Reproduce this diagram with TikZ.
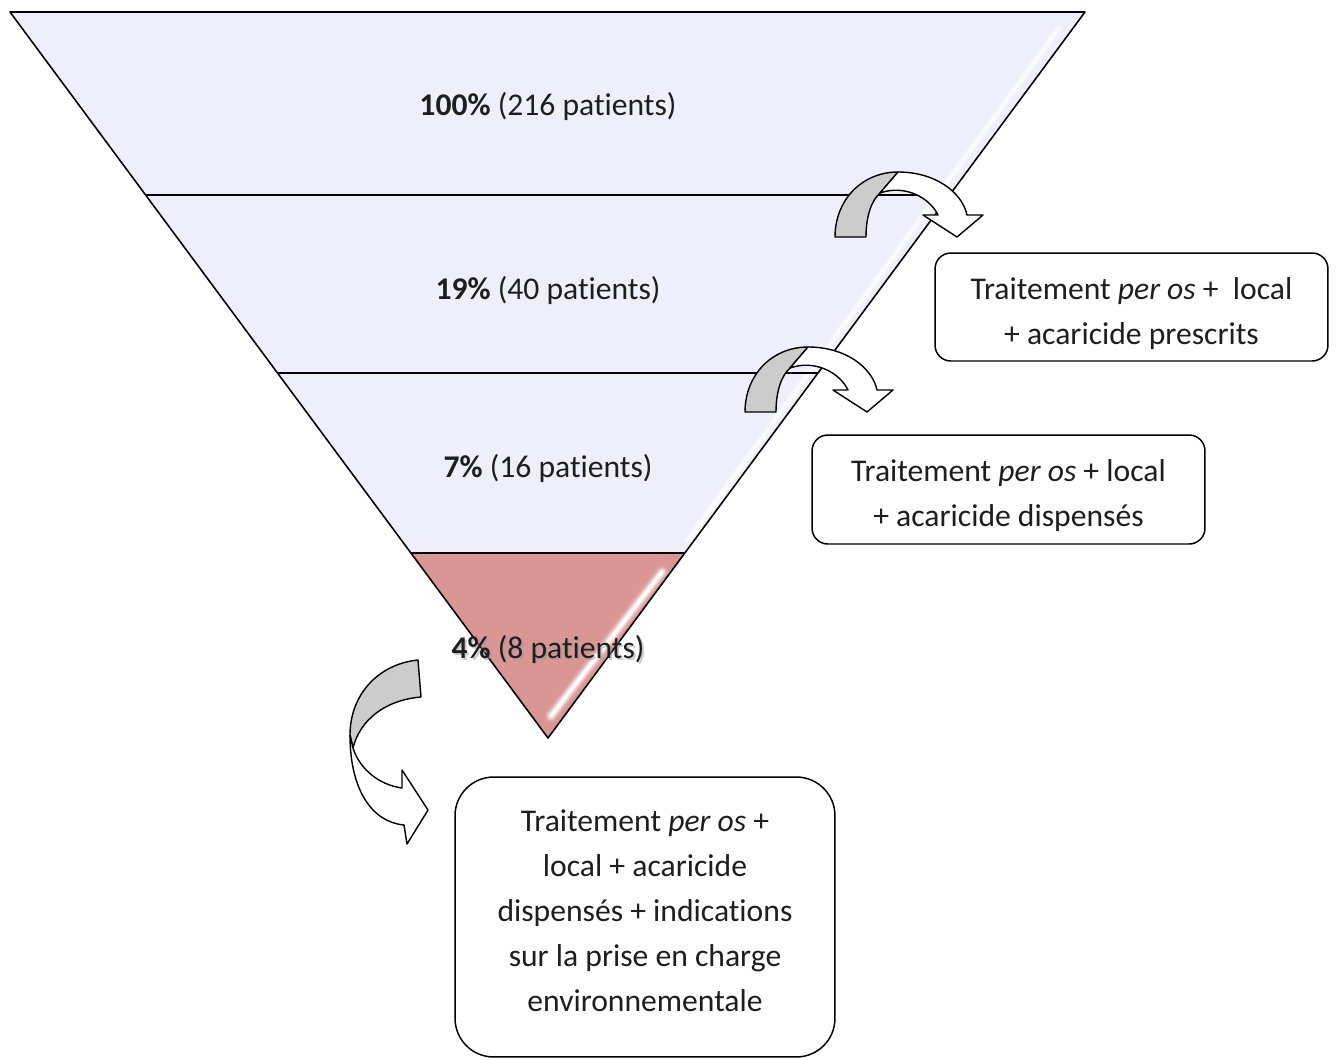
\documentclass[tikz,border=0pt]{standalone}
\usepackage{fontspec}
\setmainfont[Ligatures=NoCommon]{Carlito}
\definecolor{bandfill}{HTML}{EFEFFB}
\definecolor{tipfill}{HTML}{D99694}
\definecolor{backfill}{HTML}{CCCCCC}
\definecolor{ink}{HTML}{1E1E1E}

% curved block arrow, foot at the left, head pointing down
\newcommand{\overarrow}{%
  \draw[arrowback] (835,237) .. controls (835,200) and (862,172) .. (898,172)
    -- (880,193) .. controls (872,200) and (866,215) .. (866,237) -- cycle;
  \draw[arrowfront] (898,172) .. controls (935,172) and (962,192) .. (967,215)
    -- (983,215) -- (957,237) -- (923,215) -- (938,215)
    .. controls (930,198) and (905,184) .. (880,193) -- cycle;
}

\begin{document}
\begin{tikzpicture}[x=0.02cm, y=-0.02cm, line join=round, text=ink,
    font=\fontsize{18}{25.6}\selectfont]
  \tikzset{
    pct/.style={inner sep=0pt},
    infobox/.style={draw, line width=0.85pt, rounded corners=9pt, fill=white, inner sep=0pt},
    boxtext/.style={align=center, inner sep=0pt},
    arrowback/.style={line width=0.8pt, fill=backfill},
    arrowfront/.style={line width=0.8pt, fill=white},
  }
  \useasboundingbox (0,0) rectangle (1336,1059);

  % funnel
  \fill[bandfill] (10,12) -- (1085,12) -- (685,553) -- (411,553) -- cycle;
  \fill[tipfill] (411,553) -- (685,553) -- (548,738) -- cycle;
  \draw[white, line width=4pt, opacity=.35, line cap=round] (1059,28) -- (688,540);
  \draw[white, line width=2pt, opacity=.7, line cap=round] (1059,28) -- (688,540);
  \foreach \w/\o in {7pt/.15, 5pt/.25, 3.5pt/.45, 2pt/.9}
    \draw[white, line width=\w, opacity=\o, line cap=round] (662,572) -- (551,716);
  \draw[line width=0.85pt] (146,195) -- (950,195);
  \draw[line width=0.85pt] (277,373) -- (818,373);
  \draw[line width=0.85pt] (411,553) -- (685,553);
  \draw[line width=0.9pt] (10,12) -- (1085,12) -- (548,738) -- cycle;

  \node[pct] (pctA) at (548,106) {\textbf{100\%} (216 patients)};
  \node[pct] (pctB) at (548,290) {\textbf{19\%} (40 patients)};
  \node[pct] (pctC) at (548,468) {\textbf{7\%} (16 patients)};
  \node[pct, text=black!40, opacity=.5] at (550,651) {\textbf{4\%} (8 patients)};
  \node[pct] (pctD) at (548,649) {\textbf{4\%} (8 patients)};

  % block arrows
  \overarrow
  \begin{scope}[shift={(-90,175)}]
    \overarrow
  \end{scope}
  \draw[arrowback] (418,660) .. controls (378,664) and (350,695) .. (350,735)
    -- (353,748) .. controls (360,720) and (385,700) .. (421,697) -- cycle;
  \draw[arrowfront] (350,735) .. controls (350,790) and (372,822) .. (404,825)
    -- (407,844) -- (428,810) -- (402,770) -- (402,788)
    .. controls (380,785) and (360,770) .. (353,748) -- cycle;

  % outcome boxes
  \node[infobox, minimum width=7.86cm, minimum height=2.16cm] (prescrits) at (1131.5,307) {};
  \node[boxtext] at ([yshift=-0.14cm]prescrits.center)
    {Traitement \emph{per os} +\ \ local\\+ acaricide prescrits};
  \node[infobox, minimum width=7.86cm, minimum height=2.18cm] (dispenses) at (1008.5,489.5) {};
  \node[boxtext] at ([yshift=-0.12cm]dispenses.center)
    {Traitement \emph{per os} + local\\+ acaricide dispensés};
  \node[infobox, rounded corners=22pt, minimum width=7.6cm, minimum height=5.6cm] (environ) at (645,917) {};
  \node[boxtext] at ([yshift=0.12cm]environ.center)
    {Traitement \emph{per os} +\\local + acaricide\\dispensés + indications\\sur la prise en charge\\environnementale};
\end{tikzpicture}
\end{document}
